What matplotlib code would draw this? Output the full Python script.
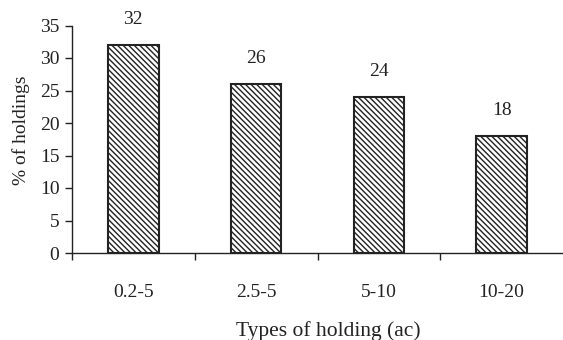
import matplotlib.pyplot as plt
import matplotlib as mpl

# data
holding_types = ['0.2-5', '2.5-5', '5-10', '10-20']
pct_holdings = [32, 26, 24, 18]
y_ticks = [0, 5, 10, 15, 20, 25, 30, 35]

plt.rcParams['font.family'] = ['Liberation Serif', 'DejaVu Serif']
mpl.rcParams['hatch.linewidth'] = 1.0

fig = plt.figure(figsize=(5.63, 3.40), dpi=100)
ax = fig.add_axes([72 / 563, 87 / 340, 1 - 72 / 563, (253 - 25.5) / 340])

x = range(len(holding_types))
bars = ax.bar(x, pct_holdings, width=0.41, color='white', edgecolor='#222222',
              linewidth=1.5, hatch='\\\\\\\\\\\\')

# value labels above bars
for xi, v in zip(x, pct_holdings):
    ax.annotate(str(v), (xi, v), xytext=(0, 12), textcoords='offset points',
                ha='center', va='bottom', fontsize=14, color='#222222')

ax.set_xlim(-0.5, 3.5)
ax.set_ylim(0, 35)
ax.set_yticks(y_ticks)
ax.tick_params(axis='y', labelsize=14, length=5, width=1, pad=4, colors='#222222')

# category labels centered, ticks at category boundaries
ax.set_xticks([-0.5, 0.5, 1.5, 2.5])
ax.set_xticklabels([])
ax.set_xticks(list(x), minor=True)
ax.set_xticklabels(holding_types, minor=True)
ax.tick_params(axis='x', which='major', length=5, width=1, colors='#222222')
ax.tick_params(axis='x', which='minor', length=0, labelsize=14, pad=22, labelcolor='#222222')

for side in ['top', 'right']:
    ax.spines[side].set_visible(False)
for side in ['left', 'bottom']:
    ax.spines[side].set_linewidth(1)
    ax.spines[side].set_color('#222222')

ax.set_ylabel('% of holdings', fontsize=14, color='#222222')
ax.yaxis.set_label_coords(-0.086, 0.54)
ax.set_xlabel('Types of holding (ac)', fontsize=15.5, color='#222222')
ax.xaxis.set_label_coords(0.522, -0.30)

fig.savefig('out.png', dpi=100)
